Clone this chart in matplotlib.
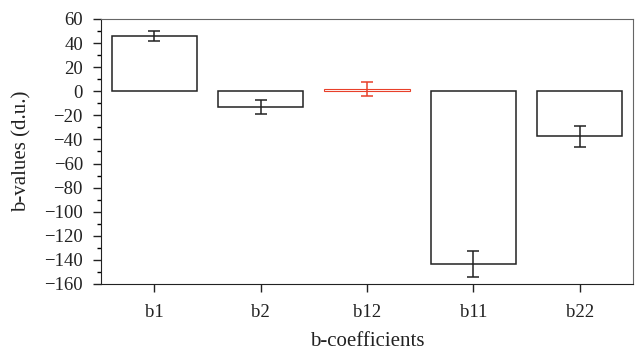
import numpy as np
import matplotlib.pyplot as plt
from matplotlib.ticker import MultipleLocator

coefficients = ['b1', 'b2', 'b12', 'b11', 'b22']
b_values = [46.0, -13.0, 1.7, -143.5, -37.2]
b_errors = [4.4, 5.8, 5.8, 10.8, 8.7]
edge_colors = ['#222222', '#222222', '#e8402a', '#222222', '#222222']

plt.rcParams['font.family'] = ['Liberation Serif', 'DejaVu Serif']
plt.rcParams['font.size'] = 13.5

fig = plt.figure(figsize=(6.35, 3.51), dpi=100)
ax = fig.add_axes([0.159, 0.191, 0.838, 0.755])

x = np.arange(len(coefficients))
for xi, v, e, c in zip(x, b_values, b_errors, edge_colors):
    lw = 0.8 if c != '#222222' else 1.1
    ax.bar(xi, v, width=0.8, facecolor='white', edgecolor=c, linewidth=lw)
    ax.errorbar(xi, v, yerr=e, fmt='none', ecolor=c, elinewidth=1.1,
                capsize=4, capthick=1.1)

ax.set_xlim(-0.5, 4.5)
ax.set_ylim(-160, 60)
ax.set_xticks(x)
ax.set_xticklabels(coefficients)
ax.yaxis.set_major_locator(MultipleLocator(20))
ax.yaxis.set_minor_locator(MultipleLocator(10))
ax.tick_params(direction='out', length=5.5, width=1, colors='#222222', labelcolor='#222222')
ax.tick_params(which='minor', direction='out', length=3, width=1)
ax.tick_params(axis='y', pad=7.5)
ax.tick_params(axis='x', pad=9)

for side in ['left', 'bottom']:
    ax.spines[side].set_color('#222222')
for side in ['top', 'right']:
    ax.spines[side].set_color('#666666')

ax.set_xlabel('b-coefficients', color='#222222', fontsize=15, labelpad=8)
ax.set_ylabel('b-values (d.u.)', color='#222222', fontsize=15, labelpad=9)

fig.savefig('out.png', dpi=100)
